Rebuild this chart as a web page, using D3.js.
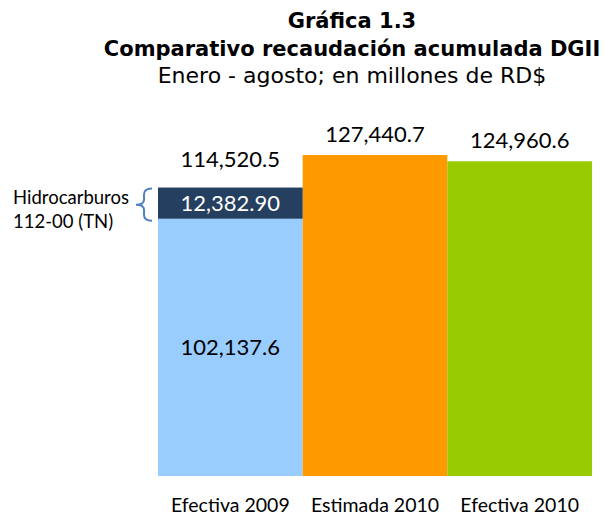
<!DOCTYPE html>
<html>
<head>
<meta charset="utf-8">
<script src="https://cdn.jsdelivr.net/npm/d3@7"></script>
<style>
  body { margin: 0; background: #fff; }
  svg { display: block; }
</style>
</head>
<body>
<svg class="chart" width="611" height="522"></svg>
<script>

// data (millones de RD$)
var categories = ["Efectiva 2009", "Estimada 2010", "Efectiva 2010"];
var baseValues = [102137.6, 127440.7, 124960.6];
var hidroValues = [12382.90, 0, 0];
var totalLabels = ["114,520.5", "127,440.7", "124,960.6"];
var baseLabels = ["102,137.6", null, null];
var hidroLabels = ["12,382.90", null, null];
var barColors = ["#99ccff", "#ff9900", "#99cc00"];
var titleLines = ["Gráfica 1.3", "Comparativo recaudación acumulada DGII", "Enero - agosto; en millones de RD$"];
var noteLines = ["Hidrocarburos", "112-00 (TN)"];

var svg = d3.select(".chart");

var rows = categories.map(function(c, i) {
  return { cat: c, base: baseValues[i], hidro: hidroValues[i], total: baseValues[i] + hidroValues[i], i: i };
});

var x = d3.scaleBand()
    .domain(categories)
    .range([158, 592])
    .padding(0);

var y = d3.scaleLinear()
    .domain([0, d3.max(rows, function(d) { return d.total; })])
    .range([476, 155]);

// title
var title = svg.append("g").attr("font-family", "DejaVu Sans").attr("fill", "#000");
title.selectAll("text")
  .data(titleLines)
  .enter().append("text")
    .attr("x", 352)
    .attr("y", function(d, i) { return 28 + i * 27.5; })
    .attr("text-anchor", "middle")
    .attr("font-weight", function(d, i) { return i < 2 ? "bold" : "normal"; })
    .attr("font-size", function(d, i) { return i < 2 ? 21 : 22; })
    .text(function(d) { return d; });

// bars
var bars = svg.append("g");

bars.selectAll(".base")
  .data(rows)
  .enter().append("rect")
    .attr("x", function(d) { return x(d.cat); })
    .attr("width", x.bandwidth())
    .attr("y", function(d) { return y(d.base); })
    .attr("height", function(d) { return y(0) - y(d.base); })
    .attr("fill", function(d) { return barColors[d.i]; });

bars.selectAll(".hidro")
  .data(rows.filter(function(d) { return d.hidro > 0; }))
  .enter().append("rect")
    .attr("x", function(d) { return x(d.cat); })
    .attr("width", x.bandwidth())
    .attr("y", function(d) { return y(d.total); })
    .attr("height", function(d) { return y(d.base) - y(d.total); })
    .attr("fill", "#243f60");

// labels
var labels = svg.append("g").attr("font-family", "Lato").attr("font-size", 22).attr("text-anchor", "middle");

labels.selectAll(".tot")
  .data(rows)
  .enter().append("text")
    .attr("x", function(d) { return x(d.cat) + x.bandwidth() / 2; })
    .attr("y", function(d) { return y(d.total) - (d.hidro > 0 ? 21 : 13); })
    .attr("fill", "#000")
    .text(function(d) { return totalLabels[d.i]; });

labels.selectAll(".hid")
  .data(rows.filter(function(d) { return hidroLabels[d.i]; }))
  .enter().append("text")
    .attr("x", function(d) { return x(d.cat) + x.bandwidth() / 2; })
    .attr("y", function(d) { return (y(d.total) + y(d.base)) / 2 + 8; })
    .attr("fill", "#fff")
    .text(function(d) { return hidroLabels[d.i]; });

labels.selectAll(".bas")
  .data(rows.filter(function(d) { return baseLabels[d.i]; }))
  .enter().append("text")
    .attr("x", function(d) { return x(d.cat) + x.bandwidth() / 2; })
    .attr("y", function(d) { return (y(d.base) + y(0)) / 2 + 8; })
    .attr("fill", "#000")
    .text(function(d) { return baseLabels[d.i]; });

// category axis, no line or ticks
var axis = svg.append("g")
    .attr("transform", "translate(0,476)")
    .call(d3.axisBottom(x).tickSize(0).tickPadding(22));
axis.select(".domain").remove();
axis.selectAll("text")
    .attr("font-family", "Lato")
    .attr("font-size", 19.5)
    .attr("fill", "#000");

// note with brace next to the hidrocarburos segment
var h = rows[0];
var segTop = y(h.total) + 1, segBot = y(h.base) + 2, segMid = (segTop + segBot) / 2;
var bx = 144, bw = 8;
svg.append("path")
    .attr("d", "M" + (bx + bw) + "," + segTop +
      " Q" + bx + "," + segTop + " " + bx + "," + (segTop + 6) +
      " L" + bx + "," + (segMid - 5) +
      " Q" + bx + "," + segMid + " " + (bx - 8) + "," + segMid +
      " Q" + bx + "," + segMid + " " + bx + "," + (segMid + 5) +
      " L" + bx + "," + (segBot - 6) +
      " Q" + bx + "," + segBot + " " + (bx + bw) + "," + segBot)
    .attr("fill", "none")
    .attr("stroke", "#4f81bd")
    .attr("stroke-width", 2);

svg.append("g")
    .attr("font-family", "Lato")
    .attr("font-size", 18.5)
  .selectAll("text")
  .data(noteLines)
  .enter().append("text")
    .attr("x", 13)
    .attr("y", function(d, i) { return segMid - 1 + i * 24; })
    .attr("fill", "#000")
    .text(function(d) { return d; });

</script>
</body>
</html>
